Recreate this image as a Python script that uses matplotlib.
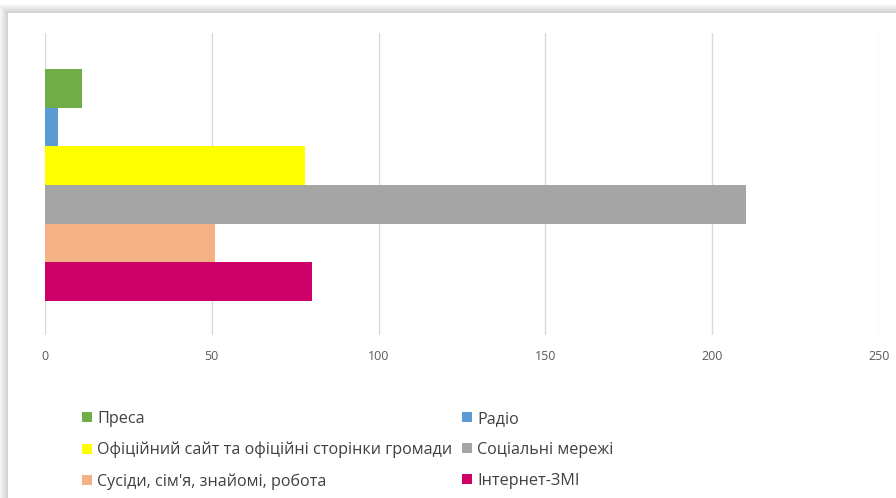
import matplotlib
matplotlib.use("Agg")
import matplotlib.pyplot as plt
from matplotlib.patches import Patch, Rectangle

plt.rcParams["font.family"] = ["Open Sans", "DejaVu Sans"]

W, H = 896, 498

# ---- data (top to bottom) -------------------------------------------------
labels = ["Преса", "Радіо", "Офіційний сайт та офіційні сторінки громади",
          "Соціальні мережі", "Сусіди, сім'я, знайомі, робота", "Інтернет-ЗМІ"]
values = [11, 4, 78, 210, 51, 80]
colors = ["#70ad47", "#5b9bd5", "#ffff00", "#a5a5a5", "#f4b183", "#cc0066"]
xticks = [0, 50, 100, 150, 200, 250]

fig = plt.figure(figsize=(W / 100, H / 100), dpi=100)
fig.patch.set_facecolor("#ffffff")

# card shadow + white card
for k in range(10):
    fig.patches.append(Rectangle(((8 - k) / W, -0.1), 1.2, (H - 13 + k) / H + 0.1,
                                 transform=fig.transFigure, facecolor="black",
                                 alpha=0.02, edgecolor="none", zorder=-10))
fig.patches.append(Rectangle((8 / W, -0.1), 1.2, (H - 13) / H + 0.1,
                             transform=fig.transFigure, facecolor="white",
                             edgecolor="none", zorder=-9))

ax = fig.add_axes([45 / W, 1 - 335 / H, (879 - 45) / W, (335 - 33) / H])
ax.patch.set_alpha(0)
ypos = list(range(len(values)))
ax.barh(ypos, values, height=1.0, color=colors, zorder=3)
ax.set_ylim(len(values) - 0.5 + 0.88, -0.5 - 0.93)
ax.set_xlim(0, 250)
ax.set_xticks(xticks)
ax.set_yticks([])
ax.grid(axis="x", color="#d9d9d9", linewidth=1, zorder=0)
for s in ax.spines.values():
    s.set_visible(False)
ax.tick_params(axis="x", length=0, labelsize=9, labelcolor="#595959", pad=11)

handles = [Patch(facecolor=c, edgecolor="none") for c in colors]
order = [0, 2, 4, 1, 3, 5]
fig.legend([handles[i] for i in order], [labels[i] for i in order],
           ncol=2, frameon=False, loc="upper left",
           bbox_to_anchor=(82 / W, 1 - 411 / H),
           fontsize=11.6, handlelength=0.6, handleheight=0.6,
           handletextpad=0.35, columnspacing=0.6, labelspacing=0.93,
           borderpad=0, borderaxespad=0, labelcolor="#404040")

fig.savefig("out.png", dpi=100)
